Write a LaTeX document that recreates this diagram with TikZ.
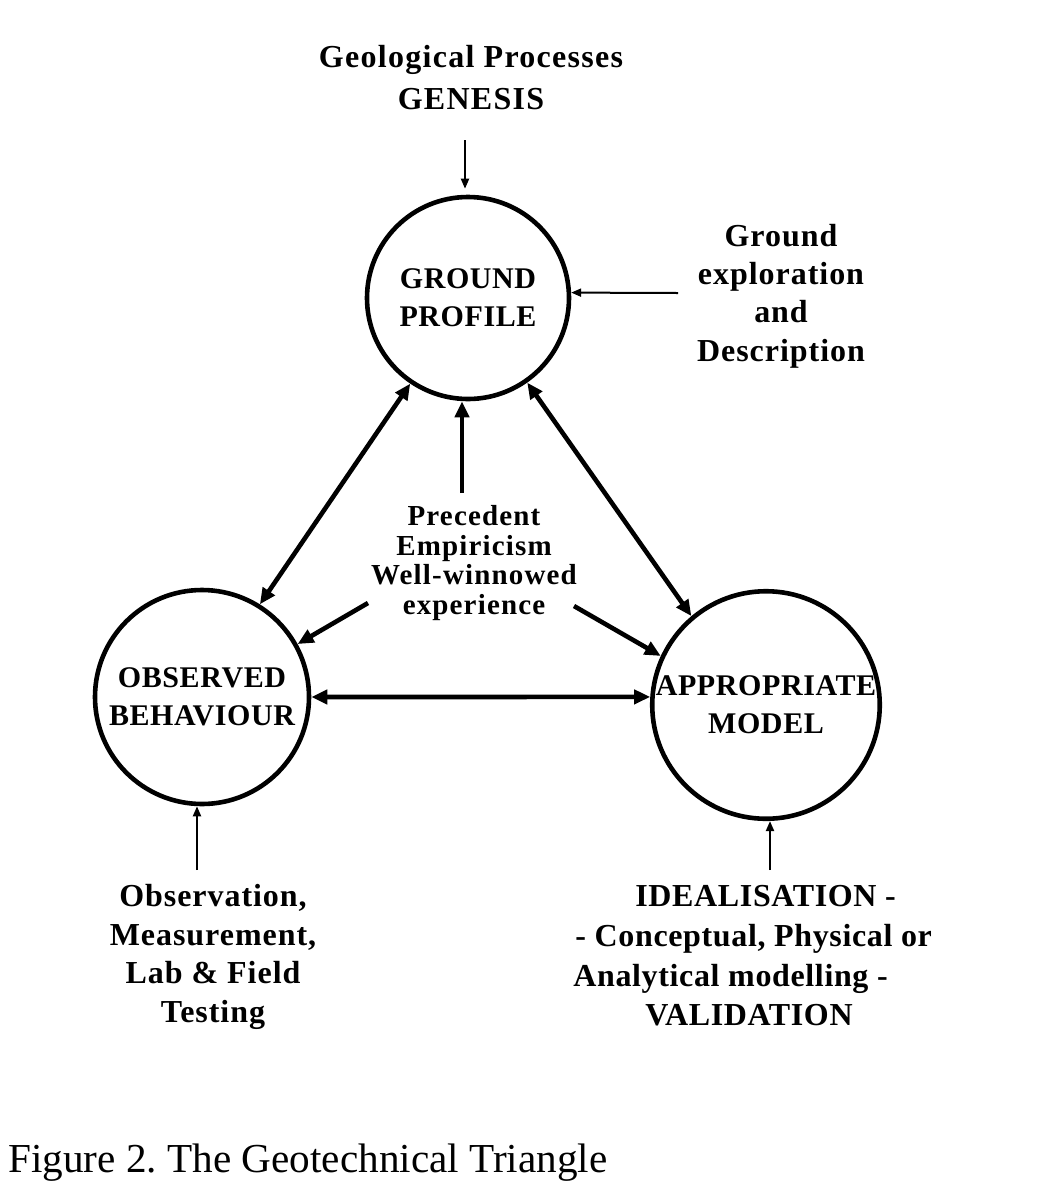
\documentclass[tikz,border=0pt]{standalone}
\usepackage{fontspec}
\setmainfont{Liberation Serif}
\newfontfamily\wideLS{Liberation Serif}[LetterSpace=3]
\newfontfamily\genLS{Liberation Serif}[LetterSpace=4]
\newfontfamily\idealLS{Liberation Serif}[LetterSpace=2]
\newfontfamily\circLS{Liberation Serif}[LetterSpace=2]
\newfontfamily\precLS{Liberation Serif}[LetterSpace=4]
\usetikzlibrary{arrows.meta}
\begin{document}
\begin{tikzpicture}[x=0.5pt,y=-0.5pt,
  circ/.style={circle,draw,line width=2.3pt,inner sep=0pt,align=center,
    font=\circLS\bfseries\fontsize{15}{19}\selectfont},
  lbl/.style={inner sep=0pt,align=center,font=\wideLS\bfseries\fontsize{16}{19.2}\selectfont},
  bigarrow/.style={line width=2.3pt,-{Triangle[length=8pt,width=7pt]}},
  bigdouble/.style={line width=2.3pt,{Triangle[length=8pt,width=7pt]}-{Triangle[length=8pt,width=7pt]}},
  thinarrow/.style={line width=1pt,-{Triangle[length=5pt,width=4pt]}},
]
\fill[white] (0,0) rectangle (1056,1184);
\useasboundingbox (0,0) rectangle (1056,1184);

% circles
\node[circ,minimum size=101pt] (ground) at (468,298) {GROUND\\PROFILE};
\node[circ,minimum size=107pt] (obs) at (202,697) {OBSERVED\\BEHAVIOUR};
\node[circ,minimum size=113.5pt] (model) at (766,705) {APPROPRIATE\\MODEL};

% labels
\node[lbl,font=\genLS\bfseries\fontsize{16}{21}\selectfont] (gen) at (471,78) {Geological Processes\\GENESIS};
\node[lbl] (expl) at (781,296) {Ground\\exploration\\and\\Description};
\node[lbl,font=\precLS\bfseries\fontsize{14.5}{14.8}\selectfont] (prec) at (474,563) {Precedent\\Empiricism\\Well-winnowed\\experience};
\node[lbl] (obsv) at (213,957) {Observation,\\Measurement,\\Lab \& Field\\Testing};
\node[lbl,align=left,anchor=west,font=\idealLS\bfseries\fontsize{16}{19.8}\selectfont] (ideal) at (573,956)
  {\hspace*{31pt}IDEALISATION -\\\hspace*{1pt}- Conceptual, Physical or\\Analytical modelling -\\\hspace*{36pt}VALIDATION};
\node[anchor=base west,inner sep=0pt,font=\fontsize{20.6}{24}\selectfont] (cap) at (8,1172) {\frenchspacing Figure 2. The Geotechnical Triangle};

% connectors between circles
\draw[bigdouble] (ground.236) -- (obs.58);
\draw[bigdouble] (ground.305) -- (model.130);
\draw[bigdouble] (obs.0) -- (model.176);

% from precedent
\draw[bigarrow] ([xshift=-6pt,yshift=6pt]prec.north) -- ([xshift=-3pt]ground.south);
\coordinate (p1) at (368,603);
\coordinate (p2) at (574,606);
\draw[bigarrow] (p1) -- (obs.29);
\draw[bigarrow] (p2) -- (model.155);

% thin arrows
\coordinate (g1) at (465,140);
\draw[thinarrow] (g1) -- ([yshift=3pt]g1 |- ground.north);
\coordinate (e1) at (678,293);
\draw[thinarrow] (e1) -- (ground.3);
\coordinate (o1) at (197,870);
\draw[thinarrow] (o1) -- (o1 |- obs.south);
\coordinate (m1) at (770,870);
\draw[thinarrow] (m1) -- (m1 |- model.south);
\end{tikzpicture}
\end{document}
